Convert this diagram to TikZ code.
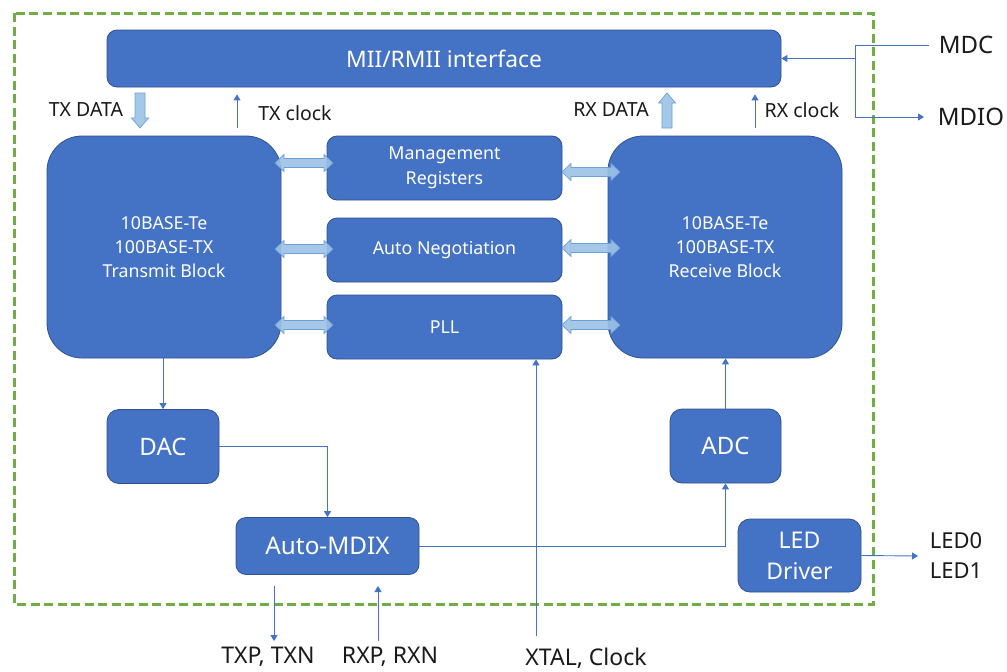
\documentclass[tikz,border=0pt]{standalone}
\usepackage{fontspec}
\setmainfont{Noto Sans}
\usetikzlibrary{arrows.meta,calc}
\definecolor{blu}{HTML}{4472C4}
\definecolor{bdr}{HTML}{2F528F}
\definecolor{grn}{HTML}{70AD47}
\definecolor{fatfill}{HTML}{9DC3E6}
\definecolor{fatline}{HTML}{6E9FD8}
\definecolor{thinc}{HTML}{4472C4}
\definecolor{txt}{HTML}{1A1A1A}
\tikzset{
  blk/.style={draw=bdr, fill=blu, line width=0.8pt, text=white, align=center, inner sep=0pt},
  lbl/.style={text=txt, inner sep=0pt, align=center},
  arr/.style={draw=thinc, line width=0.9pt, -{Triangle[length=6pt,width=7pt]}},
  ln/.style={draw=thinc, line width=0.9pt},
  fat/.style={fill=fatfill, draw=fatline, line width=0.7pt, fill opacity=0.9},
}
\newcommand\fatdown[3]{% x, ytail, ytip (ytip > ytail)
  \path[fat] ({#1-5},#2) -- ({#1+5},#2) -- ({#1+5},{#3-10}) -- ({#1+8.5},{#3-10}) -- (#1,#3) -- ({#1-8.5},{#3-10}) -- ({#1-5},{#3-10}) -- cycle;}
\newcommand\fatup[3]{% x, ytail, ytip (ytip < ytail)
  \path[fat] ({#1-5},#2) -- ({#1+5},#2) -- ({#1+5},{#3+10}) -- ({#1+8.5},{#3+10}) -- (#1,#3) -- ({#1-8.5},{#3+10}) -- ({#1-5},{#3+10}) -- cycle;}
\newcommand\dblarrow[3]{% x1, x2, y
  \path[fat] (#1,#3) -- ({#1+9},{#3-8.5}) -- ({#1+9},{#3-4.5}) -- ({#2-9},{#3-4.5}) -- ({#2-9},{#3-8.5}) -- (#2,#3) -- ({#2-9},{#3+8.5}) -- ({#2-9},{#3+4.5}) -- ({#1+9},{#3+4.5}) -- ({#1+9},{#3+8.5}) -- cycle;}
\begin{document}
\begin{tikzpicture}[x=1pt,y=-1pt]
\useasboundingbox[fill=white] (0,0) rectangle (1007,672);
% green dashed frame
\draw[grn, line width=3pt, dash pattern=on 9pt off 4.5pt] (14,13) rectangle (873,604);
% blocks
\node[blk, rounded corners=10pt, minimum width=674pt, minimum height=57pt, font=\fontsize{22.8}{26}\selectfont] (mii) at (444,58.5) {MII/RMII interface};
\node[blk, rounded corners=35pt, minimum width=234pt, minimum height=222pt, font=\fontsize{17.8}{24}\selectfont] (tx) at (164,247) {10BASE-Te\\100BASE-TX\\Transmit Block};
\node[blk, rounded corners=35pt, minimum width=234pt, minimum height=222pt, font=\fontsize{17.8}{24}\selectfont] (rx) at (725,247) {10BASE-Te\\100BASE-TX\\Receive Block};
\node[blk, rounded corners=10pt, minimum width=235pt, minimum height=64pt, font=\fontsize{17.8}{25}\selectfont] (mgmt) at (444.5,168) {Management\\Registers};
\node[blk, rounded corners=10pt, minimum width=235pt, minimum height=64pt, font=\fontsize{17.8}{25}\selectfont] (auto) at (444.5,250) {Auto Negotiation};
\node[blk, rounded corners=10pt, minimum width=235pt, minimum height=64pt, font=\fontsize{17.8}{25}\selectfont] (pll) at (444.5,327) {PLL};
\node[blk, rounded corners=12pt, minimum width=112pt, minimum height=74pt, font=\fontsize{24}{28}\selectfont] (dac) at (163,446.5) {DAC};
\node[blk, rounded corners=12pt, minimum width=111pt, minimum height=74pt, font=\fontsize{24}{28}\selectfont] (adc) at (725.5,446) {ADC};
\node[blk, rounded corners=10pt, minimum width=183pt, minimum height=57pt, font=\fontsize{24.3}{28}\selectfont] (mdix) at (327.5,546) {Auto-MDIX};
\node[blk, rounded corners=12pt, minimum width=123pt, minimum height=73pt, font=\fontsize{23}{31}\selectfont] (led) at (799.5,555.5) {LED\\Driver};
% labels
\node[lbl, font=\fontsize{19.5}{22}\selectfont] (ltxd) at (86,110) {TX DATA};
\node[lbl, font=\fontsize{19.5}{22}\selectfont] (ltxc) at (295,113) {TX clock};
\node[lbl, font=\fontsize{19.5}{22}\selectfont] (lrxd) at (611,110) {RX DATA};
\node[lbl, font=\fontsize{19.5}{22}\selectfont] (lrxc) at (802,110) {RX clock};
\node[lbl, font=\fontsize{24}{28}\selectfont] (lmdc) at (966,45) {MDC};
\node[lbl, font=\fontsize{24}{28}\selectfont] (lmdio) at (971,117) {MDIO};
\node[lbl, font=\fontsize{22}{30}\selectfont] (lled) at (956,556) {LED0\\LED1};
\node[lbl, font=\fontsize{23}{28}\selectfont] (ltxp) at (268,657) {TXP, TXN};
\node[lbl, font=\fontsize{23}{28}\selectfont] (lrxp) at (390,657) {RXP, RXN};
\node[lbl, font=\fontsize{23}{28}\selectfont] (lxtal) at (586,658.5) {XTAL, Clock};
% fat arrows
\fatdown{140}{93}{128}
\fatup{667}{128}{93}
\dblarrow{275}{333}{163}
\dblarrow{275}{333}{249}
\dblarrow{275}{333}{325}
\dblarrow{562}{620}{172}
\dblarrow{562}{620}{248}
\dblarrow{562}{620}{325}
% thin connectors
\coordinate (txc) at (237,128);
\coordinate (rxc) at (755,128);
\draw[arr, shorten >=7pt] (txc) -- (txc |- mii.south);
\draw[arr, shorten >=7pt] (rxc) -- (rxc |- mii.south);
\coordinate (mdcin) at (929,45);
\coordinate (jn) at (855,45);
\coordinate (mdioout) at (924,117);
\draw[ln] (mdcin) -- (jn) -- (jn |- mdioout);
\draw[arr] (jn |- mdioout) -- (mdioout);
\draw[arr] (jn |- mii.east) -- (mii.east);
\draw[arr] (tx.south -| dac.north) -- (dac.north);
\draw[arr] (dac.east) -| (mdix.north);
\draw[arr] (mdix.east) -| (adc.south);
\draw[arr] (adc.north) -- (adc.north |- rx.south);
\coordinate (xt) at (536,636);
\draw[arr] (xt) -- (xt |- pll.south);
\coordinate (txa) at (274,586);
\coordinate (txb) at (274,641);
\draw[arr] (txa) -- (txb);
\coordinate (rxa) at (378,641);
\coordinate (rxb) at (378,586);
\draw[arr] (rxa) -- (rxb);
\coordinate (ledo) at (918,556);
\draw[arr] (led.east) -- (ledo);
\end{tikzpicture}
\end{document}
